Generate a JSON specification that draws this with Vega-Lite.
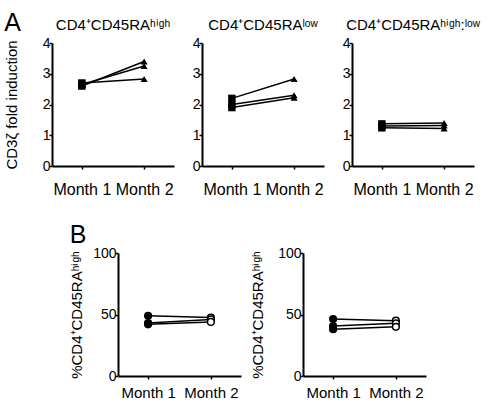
{
  "$schema": "https://vega.github.io/schema/vega-lite/v6.json",
  "padding": {"left": 4, "top": 11, "right": 2, "bottom": 2},
  "background": "white",
  "datasets": {
    "d": [
      {"p": "A1", "s": "1", "m": "Month 1", "v": 2.6},
      {"p": "A1", "s": "1", "m": "Month 2", "v": 3.4},
      {"p": "A1", "s": "2", "m": "Month 1", "v": 2.65},
      {"p": "A1", "s": "2", "m": "Month 2", "v": 3.25},
      {"p": "A1", "s": "3", "m": "Month 1", "v": 2.7},
      {"p": "A1", "s": "3", "m": "Month 2", "v": 2.83},
      {"p": "A2", "s": "1", "m": "Month 1", "v": 2.2},
      {"p": "A2", "s": "1", "m": "Month 2", "v": 2.83},
      {"p": "A2", "s": "2", "m": "Month 1", "v": 2.0},
      {"p": "A2", "s": "2", "m": "Month 2", "v": 2.3},
      {"p": "A2", "s": "3", "m": "Month 1", "v": 1.9},
      {"p": "A2", "s": "3", "m": "Month 2", "v": 2.22},
      {"p": "A3", "s": "1", "m": "Month 1", "v": 1.37},
      {"p": "A3", "s": "1", "m": "Month 2", "v": 1.4},
      {"p": "A3", "s": "2", "m": "Month 1", "v": 1.3},
      {"p": "A3", "s": "2", "m": "Month 2", "v": 1.32},
      {"p": "A3", "s": "3", "m": "Month 1", "v": 1.24},
      {"p": "A3", "s": "3", "m": "Month 2", "v": 1.22},
      {"p": "B1", "s": "1", "m": "Month 1", "v": 49},
      {"p": "B1", "s": "1", "m": "Month 2", "v": 47.5},
      {"p": "B1", "s": "2", "m": "Month 1", "v": 43},
      {"p": "B1", "s": "2", "m": "Month 2", "v": 46},
      {"p": "B1", "s": "3", "m": "Month 1", "v": 42},
      {"p": "B1", "s": "3", "m": "Month 2", "v": 44},
      {"p": "B2", "s": "1", "m": "Month 1", "v": 46.3},
      {"p": "B2", "s": "1", "m": "Month 2", "v": 45},
      {"p": "B2", "s": "2", "m": "Month 1", "v": 40.6},
      {"p": "B2", "s": "2", "m": "Month 2", "v": 42.8},
      {"p": "B2", "s": "3", "m": "Month 1", "v": 38},
      {"p": "B2", "s": "3", "m": "Month 2", "v": 40}
    ],
    "blank": [{"k": 1}]
  },
  "config": {
    "font": "Liberation Sans",
    "view": {"stroke": null},
    "axis": {
      "grid": false,
      "domainColor": "black",
      "domainWidth": 2,
      "tickColor": "black",
      "tickWidth": 1.5,
      "tickSize": 3,
      "labelColor": "black",
      "titleColor": "black",
      "labelFont": "Liberation Sans",
      "titleFont": "Liberation Sans",
      "titleFontWeight": "normal"
    },
    "title": {"color": "black", "fontWeight": "normal", "font": "Liberation Sans"}
  },
  "spacing": 26,
  "vconcat": [
    {
      "title": {"text": "A", "anchor": "start", "fontSize": 25, "offset": 0, "dy": 18},
      "bounds": "flush",
      "spacing": 28,
      "hconcat": [
        {
          "width": 122, "height": 123,
          "title": {"text": "CD4⁺CD45RAʰⁱᵍʰ", "fontSize": 15, "offset": 3},
          "data": {"name": "d"},
          "transform": [{"filter": "datum.p == 'A1'"}],
          "encoding": {
            "x": {"field": "m", "type": "ordinal", "scale": {"type": "point", "padding": 0.48}, "axis": {"title": null, "labelAngle": 0, "labelFontSize": 16, "labelPadding": 12}},
            "y": {"field": "v", "type": "quantitative", "scale": {"domain": [0, 4], "nice": false}, "axis": {"values": [0, 1, 2, 3, 4], "title": "CD3ζ fold induction", "titleFontSize": 15, "titlePadding": 23, "labelFontSize": 14, "labelPadding": -1}}
          },
          "layer": [
            {"mark": {"type": "line", "color": "black", "strokeWidth": 1.5}, "encoding": {"detail": {"field": "s"}}},
            {"mark": {"type": "point", "filled": true, "color": "black", "opacity": 1},
             "encoding": {
               "shape": {"condition": {"test": "datum.m == 'Month 1'", "value": "square"}, "value": "triangle-up"},
               "size": {"condition": {"test": "datum.m == 'Month 1'", "value": 55}, "value": 50}
             }}
          ]
        },
        {
          "width": 122, "height": 123,
          "title": {"text": "CD4⁺CD45RAˡᵒʷ", "fontSize": 15, "offset": 3},
          "data": {"name": "d"},
          "transform": [{"filter": "datum.p == 'A2'"}],
          "encoding": {
            "x": {"field": "m", "type": "ordinal", "scale": {"type": "point", "padding": 0.48}, "axis": {"title": null, "labelAngle": 0, "labelFontSize": 16, "labelPadding": 12}},
            "y": {"field": "v", "type": "quantitative", "scale": {"domain": [0, 4], "nice": false}, "axis": {"values": [0, 1, 2, 3, 4], "title": null, "labelFontSize": 14, "labelPadding": -1}}
          },
          "layer": [
            {"mark": {"type": "line", "color": "black", "strokeWidth": 1.5}, "encoding": {"detail": {"field": "s"}}},
            {"mark": {"type": "point", "filled": true, "color": "black", "opacity": 1},
             "encoding": {
               "shape": {"condition": {"test": "datum.m == 'Month 1'", "value": "square"}, "value": "triangle-up"},
               "size": {"condition": {"test": "datum.m == 'Month 1'", "value": 55}, "value": 50}
             }}
          ]
        },
        {
          "width": 122, "height": 123,
          "title": {"text": "CD4⁺CD45RAʰⁱᵍʰ:ˡᵒʷ", "fontSize": 15, "offset": 3},
          "data": {"name": "d"},
          "transform": [{"filter": "datum.p == 'A3'"}],
          "encoding": {
            "x": {"field": "m", "type": "ordinal", "scale": {"type": "point", "padding": 0.48}, "axis": {"title": null, "labelAngle": 0, "labelFontSize": 16, "labelPadding": 12}},
            "y": {"field": "v", "type": "quantitative", "scale": {"domain": [0, 4], "nice": false}, "axis": {"values": [0, 1, 2, 3, 4], "title": null, "labelFontSize": 14, "labelPadding": -1}}
          },
          "layer": [
            {"mark": {"type": "line", "color": "black", "strokeWidth": 1.5}, "encoding": {"detail": {"field": "s"}}},
            {"mark": {"type": "point", "filled": true, "color": "black", "opacity": 1},
             "encoding": {
               "shape": {"condition": {"test": "datum.m == 'Month 1'", "value": "square"}, "value": "triangle-up"},
               "size": {"condition": {"test": "datum.m == 'Month 1'", "value": 55}, "value": 50}
             }}
          ]
        }
      ]
    },
    {
      "bounds": "flush",
      "spacing": 62,
      "hconcat": [
        {
          "width": 4, "height": 10,
          "data": {"name": "blank"},
          "mark": {"type": "text", "text": ""},
          "encoding": {}
        },
        {
          "width": 123, "height": 123,
          "title": {"text": "B", "anchor": "start", "fontSize": 25, "offset": -2},
          "data": {"name": "d"},
          "transform": [{"filter": "datum.p == 'B1'"}],
          "encoding": {
            "x": {"field": "m", "type": "ordinal", "scale": {"type": "point", "padding": 0.48}, "axis": {"title": null, "labelAngle": 0, "labelFontSize": 15, "labelPadding": 6}},
            "y": {"field": "v", "type": "quantitative", "scale": {"domain": [0, 100], "nice": false}, "axis": {"values": [0, 50, 100], "title": "%CD4⁺CD45RAʰⁱᵍʰ", "titleFontSize": 15, "titlePadding": 8, "labelFontSize": 14, "labelPadding": -1}}
          },
          "layer": [
            {"mark": {"type": "line", "color": "black", "strokeWidth": 1.5}, "encoding": {"detail": {"field": "s"}}},
            {"mark": {"type": "point", "shape": "circle", "size": 45, "stroke": "black", "strokeWidth": 1.5, "opacity": 1},
             "encoding": {
               "fill": {"condition": {"test": "datum.m == 'Month 1'", "value": "black"}, "value": "white"}
             }}
          ]
        },
        {
          "width": 123, "height": 123,
          "data": {"name": "d"},
          "transform": [{"filter": "datum.p == 'B2'"}],
          "encoding": {
            "x": {"field": "m", "type": "ordinal", "scale": {"type": "point", "padding": 0.48}, "axis": {"title": null, "labelAngle": 0, "labelFontSize": 15, "labelPadding": 6}},
            "y": {"field": "v", "type": "quantitative", "scale": {"domain": [0, 100], "nice": false}, "axis": {"values": [0, 50, 100], "title": "%CD4⁺CD45RAʰⁱᵍʰ", "titleFontSize": 15, "titlePadding": 12, "labelFontSize": 14, "labelPadding": -1}}
          },
          "layer": [
            {"mark": {"type": "line", "color": "black", "strokeWidth": 1.5}, "encoding": {"detail": {"field": "s"}}},
            {"mark": {"type": "point", "shape": "circle", "size": 45, "stroke": "black", "strokeWidth": 1.5, "opacity": 1},
             "encoding": {
               "fill": {"condition": {"test": "datum.m == 'Month 1'", "value": "black"}, "value": "white"}
             }}
          ]
        }
      ]
    }
  ]
}
